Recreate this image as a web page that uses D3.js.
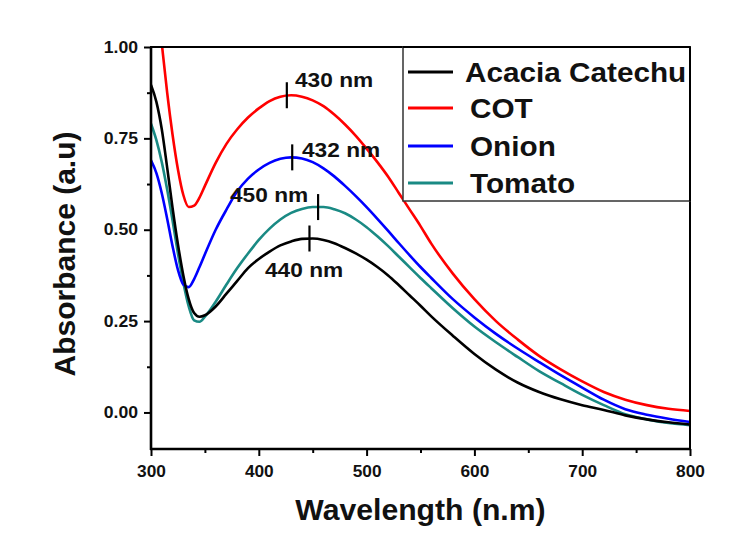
<!DOCTYPE html>
<html><head><meta charset="utf-8">
<script src="https://cdn.jsdelivr.net/npm/d3@7"></script>
<style>
html,body{margin:0;padding:0;background:#fff;}
text{font-family:"Liberation Sans",Arial,sans-serif;font-weight:bold;}
</style></head>
<body>
<svg id="chart" width="741" height="540"></svg>
<script>
const wavelengths = [300,305,310,315,320,325,330,335,340,345,350,360,370,380,390,400,410,420,430,440,450,460,470,480,490,500,510,520,530,540,550,560,580,600,620,640,660,680,700,720,740,760,780,800];
const acacia = [0.896,0.85,0.775,0.67,0.56,0.46,0.375,0.31,0.272,0.262,0.266,0.29,0.325,0.36,0.395,0.42,0.44,0.457,0.468,0.475,0.476,0.472,0.463,0.45,0.435,0.418,0.398,0.375,0.348,0.32,0.292,0.263,0.21,0.16,0.117,0.082,0.056,0.036,0.02,0.007,-0.008,-0.019,-0.027,-0.033];
const cot = [1.3,1.15,1.01,0.875,0.76,0.665,0.595,0.562,0.566,0.588,0.62,0.683,0.735,0.775,0.807,0.832,0.852,0.864,0.868,0.864,0.854,0.838,0.815,0.788,0.757,0.722,0.685,0.645,0.6,0.555,0.51,0.462,0.38,0.31,0.25,0.2,0.155,0.118,0.085,0.056,0.035,0.02,0.01,0.004];
const onion = [0.69,0.655,0.6,0.53,0.455,0.39,0.35,0.343,0.365,0.398,0.433,0.5,0.555,0.605,0.64,0.665,0.683,0.694,0.698,0.695,0.685,0.668,0.646,0.62,0.592,0.562,0.53,0.497,0.463,0.43,0.398,0.368,0.31,0.26,0.215,0.175,0.138,0.102,0.068,0.035,0.009,-0.006,-0.017,-0.026];
const tomato = [0.79,0.745,0.685,0.61,0.525,0.435,0.355,0.29,0.252,0.248,0.262,0.303,0.35,0.395,0.435,0.472,0.503,0.528,0.546,0.557,0.562,0.562,0.556,0.545,0.528,0.507,0.482,0.455,0.426,0.397,0.368,0.34,0.285,0.235,0.192,0.152,0.113,0.08,0.048,0.02,-0.005,-0.019,-0.029,-0.035];
const seriesNames = ["Acacia Catechu","COT","Onion","Tomato"];
const seriesColors = ["#000000","#ff0000","#0000ff","#1a8a84"];
const xTicks = [300,400,500,600,700,800];
const yTicks = [0,0.25,0.5,0.75,1.0];
const peakLabels = ["430 nm","432 nm","450 nm","440 nm"];
const peakWavelengths = [426,431,455,447];
const peakValues = [0.868,0.698,0.562,0.476];

const svg = d3.select("#chart");
const L = 151, R = 690, T = 47, B = 449;
const x = d3.scaleLinear().domain([300,800]).range([L,R]);
const y = d3.scaleLinear().domain([-0.1,1.0]).range([B,T]);

function stretch(t, f){
  const w = t.node().getComputedTextLength();
  t.attr("textLength", w*f).attr("lengthAdjust","spacingAndGlyphs");
  return t;
}

svg.append("defs").append("clipPath").attr("id","clip")
  .append("rect").attr("x",L).attr("y",T).attr("width",R-L).attr("height",B-T);

const allSeries = [acacia,cot,onion,tomato];
const line = d3.line().x((d,i)=>x(wavelengths[i])).y(d=>y(d)).curve(d3.curveMonotoneX);
const order = [3,2,0,1];
const g = svg.append("g").attr("clip-path","url(#clip)");
order.forEach(k=>{
  g.append("path").datum(allSeries[k]).attr("d",line)
    .attr("fill","none").attr("stroke",seriesColors[k]).attr("stroke-width",2.6)
    .attr("stroke-linejoin","round");
});

// axes
const xAxis = d3.axisBottom(x).tickValues(xTicks).tickSize(7).tickFormat(d3.format("d"));
const xMinor = d3.axisBottom(x).tickValues([350,450,550,650,750]).tickSize(4).tickFormat("");
const yAxis = d3.axisLeft(y).tickValues(yTicks).tickSize(7).tickFormat(d3.format(".2f"));
const yMinor = d3.axisLeft(y).tickValues([0.125,0.375,0.625,0.875]).tickSize(4).tickFormat("");

function styleAxis(sel){
  sel.select(".domain").remove();
  sel.selectAll("line").attr("stroke","#000").attr("stroke-width",2);
  sel.selectAll("text").attr("font-size",16).attr("fill","#111")
     .style("font-family","'Liberation Sans',Arial,sans-serif").style("font-weight","bold");
}
const gx = svg.append("g").attr("transform",`translate(0,${B})`).call(xAxis).call(styleAxis);
gx.selectAll("text").attr("dy","1.15em").each(function(){ stretch(d3.select(this),1.08); });
svg.append("g").attr("transform",`translate(0,${B})`).call(xMinor).call(styleAxis);
const gy = svg.append("g").attr("transform",`translate(${L},0)`).call(yAxis).call(styleAxis);
gy.selectAll("text").attr("x",-13).each(function(){ stretch(d3.select(this),1.1); });
svg.append("g").attr("transform",`translate(${L},0)`).call(yMinor).call(styleAxis);

// frame
svg.append("rect").attr("x",L).attr("y",T).attr("width",R-L).attr("height",B-T)
  .attr("fill","none").attr("stroke","#000").attr("stroke-width",2);
svg.append("line").attr("x1",L).attr("x2",L).attr("y1",T).attr("y2",B+1).attr("stroke","#000").attr("stroke-width",2.6);
svg.append("line").attr("x1",L-1).attr("x2",R+1).attr("y1",B).attr("y2",B).attr("stroke","#000").attr("stroke-width",2.6);

// peak markers and labels
const labelPos = [[295,87],[302,157],[230,202],[265,277]];
peakWavelengths.forEach((w,i)=>{
  const px = x(w), py = y(peakValues[i]);
  svg.append("line").attr("x1",px).attr("x2",px).attr("y1",py-13).attr("y2",py+13)
    .attr("stroke","#000").attr("stroke-width",2.2);
  const t = svg.append("text").attr("x",labelPos[i][0]).attr("y",labelPos[i][1])
    .attr("font-size",21).attr("fill","#111").text(peakLabels[i]);
  stretch(t,1.08);
});

// legend
svg.append("rect").attr("x",403).attr("y",T).attr("width",R-403).attr("height",201-T)
  .attr("fill","#fff").attr("stroke","#333").attr("stroke-width",1.5);
svg.append("line").attr("x1",R).attr("x2",R).attr("y1",T).attr("y2",201).attr("stroke","#000").attr("stroke-width",2);
svg.append("line").attr("x1",403).attr("x2",R).attr("y1",T).attr("y2",T).attr("stroke","#000").attr("stroke-width",2);
const legY = [72,108,146,183];
const legTX = [465,470,470,470];
seriesNames.forEach((n,i)=>{
  svg.append("line").attr("x1",408).attr("x2",453).attr("y1",legY[i]).attr("y2",legY[i])
    .attr("stroke",seriesColors[i]).attr("stroke-width",3);
  const t = svg.append("text").attr("x",legTX[i]).attr("y",legY[i]+10).attr("font-size",27).attr("fill","#111").text(n);
  stretch(t,1.1);
});

// axis titles
const xt = svg.append("text").attr("x",(L+R)/2).attr("y",520).attr("text-anchor","middle")
  .attr("font-size",29).attr("fill","#111").text("Wavelength (n.m)");
stretch(xt,1.04);
svg.append("text").attr("transform","translate(75,254) rotate(-90)").attr("text-anchor","middle")
  .attr("font-size",30).attr("fill","#111").text("Absorbance (a.u)");
</script>
</body></html>
